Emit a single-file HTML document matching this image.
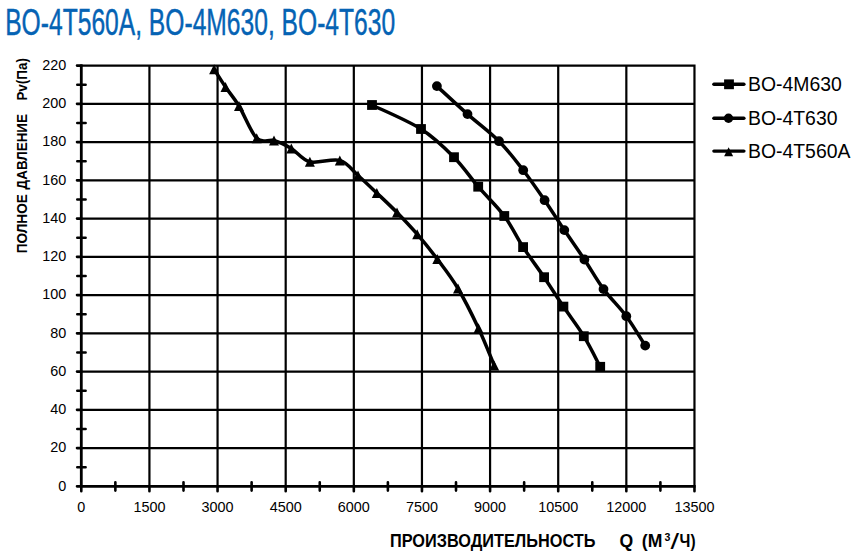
<!DOCTYPE html><html><head><meta charset="utf-8"><title>BO-4T560A, BO-4M630, BO-4T630</title><style>html,body{margin:0;padding:0;background:#fff;width:861px;height:557px;overflow:hidden}svg{display:block}text{font-family:"Liberation Sans",Arial,sans-serif}</style></head><body>
<svg width="861" height="557" viewBox="0 0 861 557">
<text x="5.2" y="34.8" font-size="36.6" fill="#0563b4" stroke="#0563b4" stroke-width="0.45" textLength="390" lengthAdjust="spacingAndGlyphs">BO-4T560A, BO-4M630, BO-4T630</text>
<path d="M81.3,448.1H695.47M81.3,409.85H695.47M81.3,371.6H695.47M81.3,333.35H695.47M81.3,295.1H695.47M81.3,256.85H695.47M81.3,218.6H695.47M81.3,180.35H695.47M81.3,142.1H695.47M81.3,103.85H695.47M81.3,65.6H695.47M149.43,64.6V486.35M217.56,64.6V486.35M285.69,64.6V486.35M353.82,64.6V486.35M421.95,64.6V486.35M490.08,64.6V486.35M558.21,64.6V486.35M626.34,64.6V486.35M694.47,64.6V486.35" stroke="#000" stroke-width="2.2" fill="none"/>
<path d="M77,486.35H81.3M77,448.1H81.3M77,409.85H81.3M77,371.6H81.3M77,333.35H81.3M77,295.1H81.3M77,256.85H81.3M77,218.6H81.3M77,180.35H81.3M77,142.1H81.3M77,103.85H81.3M77,65.6H81.3M77.3,467.23H85.6M77.3,428.98H85.6M77.3,390.73H85.6M77.3,352.48H85.6M77.3,314.23H85.6M77.3,275.98H85.6M77.3,237.73H85.6M77.3,199.48H85.6M77.3,161.23H85.6M77.3,122.98H85.6M77.3,84.73H85.6M81.3,486.35V491.2M149.43,486.35V491.2M217.56,486.35V491.2M285.69,486.35V491.2M353.82,486.35V491.2M421.95,486.35V491.2M490.08,486.35V491.2M558.21,486.35V491.2M626.34,486.35V491.2M694.47,486.35V491.2M115.36,482.3V490.6M183.5,482.3V490.6M251.62,482.3V490.6M319.75,482.3V490.6M387.88,482.3V490.6M456.01,482.3V490.6M524.14,482.3V490.6M592.27,482.3V490.6M660.4,482.3V490.6" stroke="#000" stroke-width="2.6" fill="none" stroke-linecap="round"/>
<path d="M81.3,64.6V487.75 M79.9,486.35H695.47" stroke="#000" stroke-width="2.8" fill="none"/>
<text x="66.2" y="490.65" font-size="14.4" text-anchor="end">0</text>
<text x="66.2" y="452.4" font-size="14.4" text-anchor="end">20</text>
<text x="66.2" y="414.15" font-size="14.4" text-anchor="end">40</text>
<text x="66.2" y="375.9" font-size="14.4" text-anchor="end">60</text>
<text x="66.2" y="337.65" font-size="14.4" text-anchor="end">80</text>
<text x="66.2" y="299.4" font-size="14.4" text-anchor="end">100</text>
<text x="66.2" y="261.15" font-size="14.4" text-anchor="end">120</text>
<text x="66.2" y="222.9" font-size="14.4" text-anchor="end">140</text>
<text x="66.2" y="184.65" font-size="14.4" text-anchor="end">160</text>
<text x="66.2" y="146.4" font-size="14.4" text-anchor="end">180</text>
<text x="66.2" y="108.15" font-size="14.4" text-anchor="end">200</text>
<text x="66.2" y="69.9" font-size="14.4" text-anchor="end">220</text>
<text x="81.3" y="512.1" font-size="14.4" text-anchor="middle">0</text>
<text x="149.43" y="512.1" font-size="14.4" text-anchor="middle">1500</text>
<text x="217.56" y="512.1" font-size="14.4" text-anchor="middle">3000</text>
<text x="285.69" y="512.1" font-size="14.4" text-anchor="middle">4500</text>
<text x="353.82" y="512.1" font-size="14.4" text-anchor="middle">6000</text>
<text x="421.95" y="512.1" font-size="14.4" text-anchor="middle">7500</text>
<text x="490.08" y="512.1" font-size="14.4" text-anchor="middle">9000</text>
<text x="558.21" y="512.1" font-size="14.4" text-anchor="middle">10500</text>
<text x="626.34" y="512.1" font-size="14.4" text-anchor="middle">12000</text>
<text x="694.47" y="512.1" font-size="14.4" text-anchor="middle">13500</text>
<text x="390" y="546.6" font-size="17.6" font-weight="bold" textLength="205.4" lengthAdjust="spacingAndGlyphs">ПРОИЗВОДИТЕЛЬНОСТЬ</text>
<text x="619.4" y="546.6" font-size="17.6" font-weight="bold">Q</text>
<text x="641.8" y="546.6" font-size="17.6" font-weight="bold">(М</text>
<text x="664.6" y="540.8" font-size="10.6" font-weight="bold">3</text>
<text x="670.4" y="549" font-size="22.5" font-weight="normal" textLength="8.6" lengthAdjust="spacingAndGlyphs">/</text>
<text x="679.6" y="546.6" font-size="17.6" font-weight="bold" textLength="16" lengthAdjust="spacingAndGlyphs">Ч)</text>
<g transform="translate(27,253.2) rotate(-90)" font-size="14.5" font-weight="bold">
<text x="0" y="0" textLength="59" lengthAdjust="spacingAndGlyphs">ПОЛНОЕ</text>
<text x="63.8" y="0" textLength="75.4" lengthAdjust="spacingAndGlyphs">ДАВЛЕНИЕ</text>
<text x="152.6" y="0" textLength="42.6" lengthAdjust="spacingAndGlyphs">Pv(Па)</text>
</g>
<path d="M214.1,69.3 C216,72.25 221.35,80.88 225.5,87 C229.65,93.12 233.8,97.45 239,106 C244.2,114.55 250.87,132.55 256.7,138.3 C262.53,144.05 268.23,138.82 274,140.5 C279.77,142.18 285.32,144.85 291.3,148.4 C297.28,151.95 301.82,159.8 309.9,161.8 C317.98,163.8 331.78,158.12 339.8,160.4 C347.82,162.68 351.83,170.07 358,175.5 C364.17,180.93 370.3,186.83 376.8,193 C383.3,199.17 390.27,205.63 397,212.5 C403.73,219.37 410.48,226.43 417.2,234.2 C423.92,241.97 430.5,250.05 437.3,259.1 C444.1,268.15 451.13,276.97 458,288.5 C464.87,300.03 472.47,315.48 478.5,328.3 C484.53,341.12 491.58,359.22 494.2,365.4" stroke="#000" stroke-width="3.5" fill="none" stroke-linejoin="round" stroke-linecap="round"/>
<path d="M372,105 C380.17,109 407.33,120.3 421,129 C434.67,137.7 444.47,147.58 454,157.2 C463.53,166.82 469.82,176.9 478.2,186.7 C486.58,196.5 496.82,205.93 504.3,216 C511.78,226.07 516.47,236.9 523.1,247.1 C529.73,257.3 537.38,267.28 544.1,277.2 C550.82,287.12 556.78,296.77 563.4,306.6 C570.02,316.43 577.67,326.17 583.8,336.2 C589.93,346.23 597.47,361.7 600.2,366.8" stroke="#000" stroke-width="3.5" fill="none" stroke-linejoin="round" stroke-linecap="round"/>
<path d="M436.9,86.1 C442,90.77 457.15,104.92 467.5,114.1 C477.85,123.28 489.72,131.85 499,141.2 C508.28,150.55 515.6,160.37 523.2,170.2 C530.8,180.03 537.75,190.22 544.6,200.2 C551.45,210.18 557.67,220.22 564.3,230.1 C570.93,239.98 577.87,249.67 584.4,259.5 C590.93,269.33 596.52,279.65 603.5,289.1 C610.48,298.55 619.35,306.78 626.3,316.2 C633.25,325.62 642.05,340.7 645.2,345.6" stroke="#000" stroke-width="3.5" fill="none" stroke-linejoin="round" stroke-linecap="round"/>
<g fill="#000"><path d="M214.1,64.3L219.1,74.3L209.1,74.3Z"/><path d="M225.5,82L230.5,92L220.5,92Z"/><path d="M239,101L244,111L234,111Z"/><path d="M256.7,133.3L261.7,143.3L251.7,143.3Z"/><path d="M274,135.5L279,145.5L269,145.5Z"/><path d="M291.3,143.4L296.3,153.4L286.3,153.4Z"/><path d="M309.9,156.8L314.9,166.8L304.9,166.8Z"/><path d="M339.8,155.4L344.8,165.4L334.8,165.4Z"/><path d="M358,170.5L363,180.5L353,180.5Z"/><path d="M376.8,188L381.8,198L371.8,198Z"/><path d="M397,207.5L402,217.5L392,217.5Z"/><path d="M417.2,229.2L422.2,239.2L412.2,239.2Z"/><path d="M437.3,254.1L442.3,264.1L432.3,264.1Z"/><path d="M458,283.5L463,293.5L453,293.5Z"/><path d="M478.5,323.3L483.5,333.3L473.5,333.3Z"/><path d="M494.2,360.4L499.2,370.4L489.2,370.4Z"/><rect x="367.1" y="100.1" width="9.8" height="9.8"/><rect x="416.1" y="124.1" width="9.8" height="9.8"/><rect x="449.1" y="152.3" width="9.8" height="9.8"/><rect x="473.3" y="181.8" width="9.8" height="9.8"/><rect x="499.4" y="211.1" width="9.8" height="9.8"/><rect x="518.2" y="242.2" width="9.8" height="9.8"/><rect x="539.2" y="272.3" width="9.8" height="9.8"/><rect x="558.5" y="301.7" width="9.8" height="9.8"/><rect x="578.9" y="331.3" width="9.8" height="9.8"/><rect x="595.3" y="361.9" width="9.8" height="9.8"/><circle cx="436.9" cy="86.1" r="4.9"/><circle cx="467.5" cy="114.1" r="4.9"/><circle cx="499" cy="141.2" r="4.9"/><circle cx="523.2" cy="170.2" r="4.9"/><circle cx="544.6" cy="200.2" r="4.9"/><circle cx="564.3" cy="230.1" r="4.9"/><circle cx="584.4" cy="259.5" r="4.9"/><circle cx="603.5" cy="289.1" r="4.9"/><circle cx="626.3" cy="316.2" r="4.9"/><circle cx="645.2" cy="345.6" r="4.9"/></g>
<path d="M713.9,84.3H743.9" stroke="#000" stroke-width="3.4" stroke-linecap="round"/>
<g fill="#000"><rect x="724.1" y="79.4" width="9.8" height="9.8"/></g>
<text x="748" y="91.2" font-size="19.4">BO-4M630</text>
<path d="M713.9,118.3H743.9" stroke="#000" stroke-width="3.4" stroke-linecap="round"/>
<g fill="#000"><circle cx="728.5" cy="118.3" r="4.7"/></g>
<text x="748" y="125.2" font-size="19.4">BO-4T630</text>
<path d="M713.9,151.1H743.9" stroke="#000" stroke-width="3.4" stroke-linecap="round"/>
<g fill="#000"><path d="M728.6,147.3L733.1,156.3L724.1,156.3Z"/></g>
<text x="748" y="158" font-size="19.4">BO-4T560A</text>
</svg></body></html>
